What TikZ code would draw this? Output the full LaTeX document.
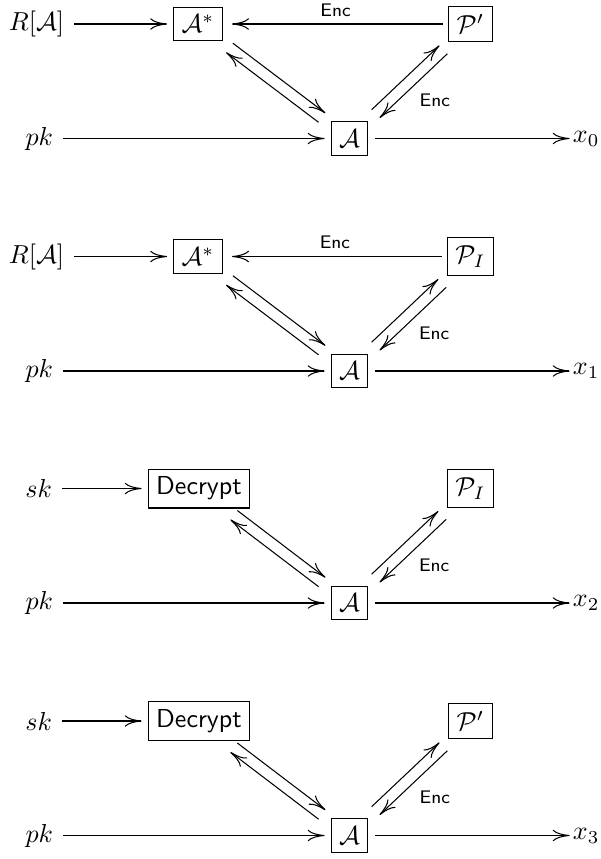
\documentclass[tikz,border=0pt]{standalone}
\usetikzlibrary{arrows.meta}
\begin{document}
\begin{tikzpicture}[x=0.3846pt,y=-0.3846pt,
  every node/.style={inner sep=0pt, outer sep=0pt},
  box/.style={draw, line width=0.4pt, inner sep=3pt},
  lab/.style={font=\scriptsize\sffamily},
  arr/.style={line width=0.4pt, -{Computer Modern Rightarrow[length=6.5pt,width=4.4pt]}},
  fromtxt/.style={arr, shorten <=3.8pt, shorten >=2.6pt},
  tooutput/.style={arr, shorten <=2.8pt, shorten >=1.3pt},
  enctop/.style={arr, shorten <=2.3pt, shorten >=3.8pt},
  diag/.style={arr, shorten <=4.5pt, shorten >=4.5pt},
  shUR/.style={transform canvas={xshift=1.32pt,yshift=1.76pt}},
  shDL/.style={transform canvas={xshift=-1.32pt,yshift=-1.76pt}},
  shUL/.style={transform canvas={xshift=-1.52pt,yshift=1.58pt}},
  shDR/.style={transform canvas={xshift=1.52pt,yshift=-1.58pt}},
  enclab/.style={lab, midway, xshift=8.2pt, yshift=-5.5pt},
]
\useasboundingbox (0,0) rectangle (600,859);

% ---------- diagram 1 ----------
\node[anchor=east] (ra1) at (64,24) {$R[\mathcal{A}]$};
\node[box] (as1) at (198,24) {$\mathcal{A}^*$};
\node[box] (pp1) at (470.5,24) {$\mathcal{P}'$};
\node[anchor=east] (pk1) at (53,138.5) {$pk$};
\node[box] (a1) at (349.5,138.5) {$\mathcal{A}$};
\node[anchor=west] (x1) at (573,138.5) {$x_0$};
\draw[fromtxt] (ra1) -- (as1);
\draw[enctop] (pp1) -- node[lab, yshift=5.4pt]{Enc} (as1);
\draw[fromtxt] (pk1) -- (a1);
\draw[tooutput] (a1) -- (x1);
\draw[diag, shUR] (as1) -- (a1);
\draw[diag, shDL] (a1) -- (as1);
\draw[diag, shUL] (a1) -- (pp1);
\draw[diag, shDR] (pp1) -- node[enclab]{Enc} (a1);

% ---------- diagram 2 ----------
\node[anchor=east] (ra2) at (64,256.5) {$R[\mathcal{A}]$};
\node[box] (as2) at (198,256.5) {$\mathcal{A}^*$};
\node[box] (pp2) at (470.5,256.5) {$\mathcal{P}_I$};
\node[anchor=east] (pk2) at (53,371) {$pk$};
\node[box] (a2) at (349.5,371) {$\mathcal{A}$};
\node[anchor=west] (x2) at (573,371) {$x_1$};
\draw[fromtxt] (ra2) -- (as2);
\draw[enctop] (pp2) -- node[lab, yshift=5.4pt]{Enc} (as2);
\draw[fromtxt] (pk2) -- (a2);
\draw[tooutput] (a2) -- (x2);
\draw[diag, shUR] (as2) -- (a2);
\draw[diag, shDL] (a2) -- (as2);
\draw[diag, shUL] (a2) -- (pp2);
\draw[diag, shDR] (pp2) -- node[enclab]{Enc} (a2);

% ---------- diagram 3 ----------
\node[anchor=east] (sk3) at (52,488.5) {$sk$};
\node[box] (de3) at (199,488.5) {\sffamily Decrypt};
\node[box] (pp3) at (470.5,488.5) {$\mathcal{P}_I$};
\node[anchor=east] (pk3) at (53,603) {$pk$};
\node[box] (a3) at (349.5,603) {$\mathcal{A}$};
\node[anchor=west] (x3) at (573,603) {$x_2$};
\draw[fromtxt] (sk3) -- (de3);
\draw[fromtxt] (pk3) -- (a3);
\draw[tooutput] (a3) -- (x3);
\draw[diag, shUR] (de3) -- (a3);
\draw[diag, shDL] (a3) -- (de3);
\draw[diag, shUL] (a3) -- (pp3);
\draw[diag, shDR] (pp3) -- node[enclab]{Enc} (a3);

% ---------- diagram 4 ----------
\node[anchor=east] (sk4) at (52,721) {$sk$};
\node[box] (de4) at (199,721) {\sffamily Decrypt};
\node[box] (pp4) at (470.5,721) {$\mathcal{P}'$};
\node[anchor=east] (pk4) at (53,835.5) {$pk$};
\node[box] (a4) at (349.5,835.5) {$\mathcal{A}$};
\node[anchor=west] (x4) at (573,835.5) {$x_3$};
\draw[fromtxt] (sk4) -- (de4);
\draw[fromtxt] (pk4) -- (a4);
\draw[tooutput] (a4) -- (x4);
\draw[diag, shUR] (de4) -- (a4);
\draw[diag, shDL] (a4) -- (de4);
\draw[diag, shUL] (a4) -- (pp4);
\draw[diag, shDR] (pp4) -- node[enclab]{Enc} (a4);
\end{tikzpicture}
\end{document}
